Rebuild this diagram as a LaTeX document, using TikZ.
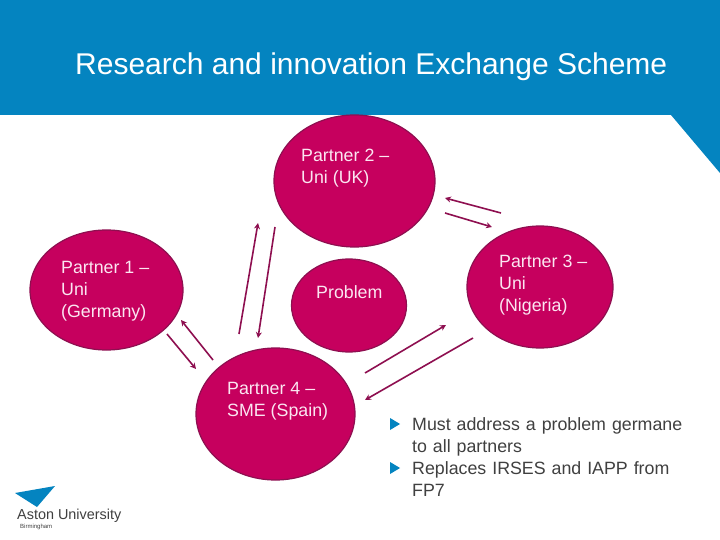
\documentclass[tikz,border=0pt]{standalone}
\usepackage{fontspec}
\setmainfont{Liberation Sans}
\definecolor{band}{HTML}{0484C0}
\definecolor{blob}{HTML}{C6005E}
\definecolor{blobedge}{HTML}{8E0F50}
\definecolor{txt}{HTML}{404040}
\definecolor{blobtxt}{HTML}{FBE6F1}
\tikzset{
  partner/.style={ellipse,draw=blobedge,line width=1.2pt,fill=blob,inner sep=0pt},
  blobtext/.style={text=blobtxt,font=\fontsize{17.8}{22}\selectfont,align=left,anchor=north west,inner sep=0pt},
  link/.style={draw=blobedge,line width=1.6pt,-{Stealth[length=6pt,width=6pt]}},
  bullet/.style={fill=band,draw=none},
  body/.style={text=txt,font=\fontsize{17.8}{22}\selectfont,align=left,anchor=north west,inner sep=0pt,text width=300pt},
}
\usetikzlibrary{shapes.geometric,arrows.meta}
\begin{document}
\begin{tikzpicture}[x=1pt,y=-1pt]
\useasboundingbox (0,0) rectangle (720,540);
\fill[white] (0,0) rectangle (720,540);
\fill[band] (0,0) -- (720,0) -- (720,173) -- (671,115) -- (0,115) -- cycle;
\node[text=white,font=\fontsize{30}{34}\selectfont,anchor=base west,inner sep=0pt] (title) at (75,74.5) {Research and innovation Exchange Scheme};
% circles
\node[partner,minimum width=161pt,minimum height=132pt] (p2) at (354.5,181) {};
\node[partner,minimum width=153pt,minimum height=120pt] (p1) at (106.5,290) {};
\node[partner,minimum width=115pt,minimum height=93pt] (pr) at (349,305.5) {};
\node[partner,minimum width=146pt,minimum height=122pt] (p3) at (540,287) {};
\node[partner,minimum width=159pt,minimum height=132pt] (p4) at (275.5,414) {};
% labels
\node[blobtext] (l2) at (301,149) {Partner 2 –\\Uni (UK)};
\node[blobtext] (l1) at (61,261) {Partner 1 –\\Uni\\(Germany)};
\node[blobtext] (lp) at (316,285) {Problem};
\node[blobtext] (l3) at (499,255) {Partner 3 –\\Uni\\(Nigeria)};
\node[blobtext] (l4) at (227,382) {Partner 4 –\\SME (Spain)};
% connector ends
\coordinate (a1) at (213,360); \coordinate (a2) at (181,320);
\coordinate (b1) at (167,334); \coordinate (b2) at (196,369);
\coordinate (c1) at (239,334); \coordinate (c2) at (258,223);
\coordinate (d1) at (275,227); \coordinate (d2) at (258,338);
\coordinate (e1) at (501,213); \coordinate (e2) at (445,198);
\coordinate (f1) at (445,213); \coordinate (f2) at (492,227);
\coordinate (g1) at (365,373); \coordinate (g2) at (446,325);
\coordinate (h1) at (473,338); \coordinate (h2) at (365,400);
\foreach \s/\t in {a1/a2,b1/b2,c1/c2,d1/d2,e1/e2,f1/f2,g1/g2,h1/h2}
  \draw[link] (\s) -- (\t);
% bullets
\fill[bullet] (390,418) -- (400,424) -- (390,430) -- cycle;
\fill[bullet] (390,462) -- (400,468) -- (390,474) -- cycle;
\node[body] (t1) at (412,417) {Must address a problem germane\\to all partners};
\node[body] (t2) at (412,461) {Replaces IRSES and IAPP from\\FP7};
% logo
\fill[band] (15,493) -- (55,486) -- (37,507) -- cycle;
\node[text=txt,font=\fontsize{14.4}{18}\selectfont,anchor=base west,inner sep=0pt] (logo) at (17,519) {Aston University};
\node[text=txt,font=\fontsize{6}{7}\selectfont,anchor=base west,inner sep=0pt] (logob) at (20,528) {Birmingham};
\end{tikzpicture}
\end{document}
